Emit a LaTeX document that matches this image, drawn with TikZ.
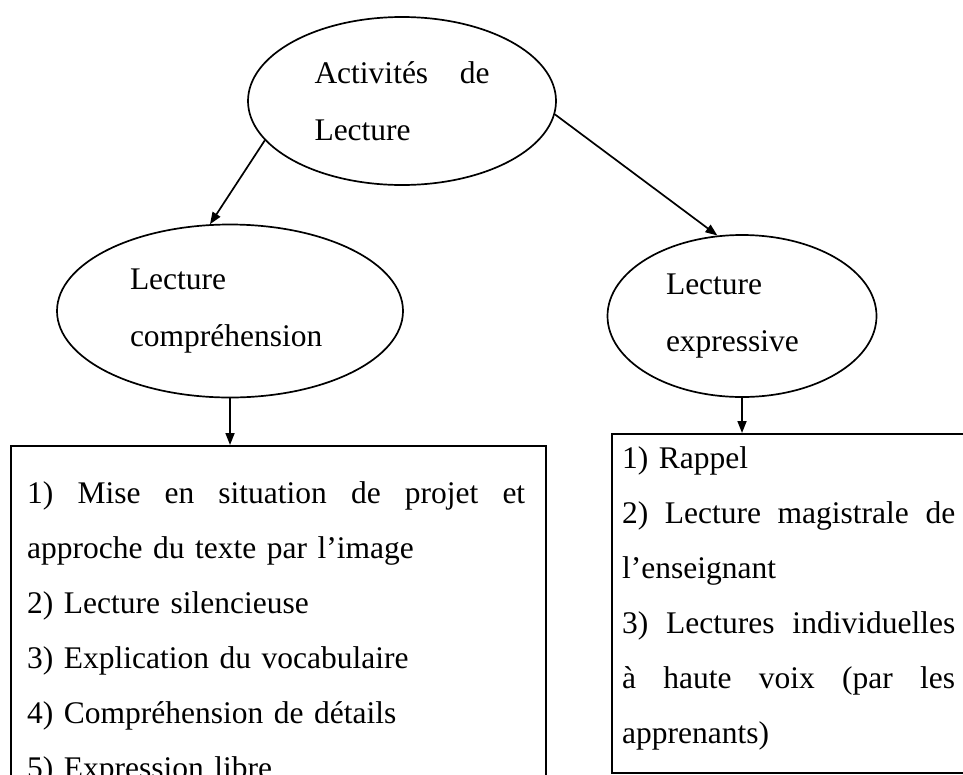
\documentclass[tikz,border=0pt]{standalone}
\usepackage{fontspec}
\setmainfont{Liberation Serif}
\usetikzlibrary{shapes.geometric,arrows.meta,calc}
\tikzset{
  bubble/.style={draw, line width=1.7pt, ellipse, inner sep=0pt, align=left,
    font=\fontsize{31.5}{57}\selectfont},
  listframe/.style={draw, line width=1.7pt, rectangle, inner sep=0pt, anchor=north west},
  listtext/.style={inner sep=0pt, anchor=north west, align=left,
    font=\fontsize{31.5}{55}\selectfont},
  link/.style={line width=1.7pt, -{Triangle[length=12pt,width=9pt]}}
}
\newcommand{\spreadline}[2]{\leavevmode\hbox to #1{\spaceskip=0.25em plus 1fill\relax #2}}
\begin{document}
\begin{tikzpicture}[x=1pt,y=-1pt]
  \useasboundingbox (0,0) rectangle (963,774);
  \clip (0,0) rectangle (963,774);
  % ellipses
  \node[bubble, minimum width=308pt, minimum height=168pt, text width=175pt] (top) at (402,101)
    {\spreadline{175pt}{Activités de}\\ Lecture};
  \node[bubble, minimum width=346pt, minimum height=173pt, text width=200pt] (lc) at (230,311)
    {Lecture\\ compréhension};
  \node[bubble, minimum width=269pt, minimum height=162pt, text width=152pt] (rc) at (742,316)
    {Lecture\\ expressive};
  % boxes
  \node[listframe, minimum width=535pt, minimum height=360pt] (lbox) at (10,445) {};
  \node[listframe, minimum width=380pt, minimum height=339pt] (rbox) at (611,433) {};
  \node[listtext, text width=498pt] (ltext) at (27,481) {%
    \spreadline{498pt}{1) Mise en situation de projet et}\\
    approche du texte par l’image\\
    2) Lecture silencieuse\\
    3) Explication du vocabulaire\\
    4) Compréhension de détails\\
    5) Expression libre};
  \node[listtext, text width=333pt] (rtext) at (622,446) {%
    1) Rappel\\
    \spreadline{333pt}{2) Lecture magistrale de}\\
    l’enseignant\\
    \spreadline{333pt}{3) Lectures individuelles}\\
    \spreadline{333pt}{à haute voix (par les}\\
    apprenants)};
  % connectors
  \draw[link] (top.196) -- (lc.103);
  \draw[link] (top.355) -- (rc.107);
  \draw[link] (lc.south) -- (lc.south |- lbox.north);
  \draw[link] (rc.south) -- (rc.south |- rbox.north);
\end{tikzpicture}
\end{document}
